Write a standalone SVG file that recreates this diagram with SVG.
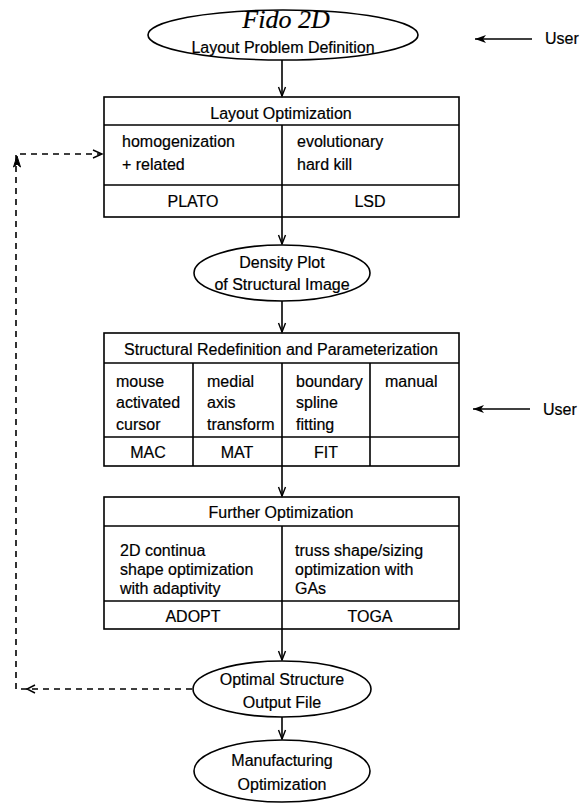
<svg xmlns="http://www.w3.org/2000/svg" width="587" height="803" viewBox="0 0 587 803">
<style>
.s{fill:none;stroke:#000;stroke-width:1.6}
.ln{stroke:#000;stroke-width:1.6;fill:none}
.e{fill:#fff;stroke:#000;stroke-width:1.6}
text{font-family:"Liberation Sans",Arial,sans-serif;font-size:16px;fill:#000;stroke:#000;stroke-width:0.2}
.c{text-anchor:middle}
.fido{font-family:"Liberation Serif","Times New Roman",serif;font-style:italic;font-size:26px}
.d{fill:none;stroke:#000;stroke-width:1.6;stroke-dasharray:6 5}
.ah{fill:none;stroke:#000;stroke-width:1.4}
</style>
<defs>
<marker id="a" viewBox="-10 -5 12 10" refX="0" refY="0" markerWidth="12" markerHeight="10" markerUnits="userSpaceOnUse" orient="auto">
<path d="M-9,-3.5 L0,0 L-9,3.5" fill="none" stroke="#000" stroke-width="1.4"/>
</marker>
<marker id="u" viewBox="-12 -5 13 10" refX="0" refY="0" markerWidth="13" markerHeight="10" markerUnits="userSpaceOnUse" orient="auto">
<path d="M0,0 L-11,-4 L-8,0 L-11,4 Z" fill="#000"/>
</marker>
</defs>

<g id="connectors">
<line class="ln" x1="282" y1="60" x2="282" y2="96" marker-end="url(#a)"/>
<line class="ln" x1="282" y1="217" x2="282" y2="244" marker-end="url(#a)"/>
<line class="ln" x1="282" y1="301" x2="282" y2="332" marker-end="url(#a)"/>
<line class="ln" x1="282" y1="466" x2="282" y2="496" marker-end="url(#a)"/>
<line class="ln" x1="282" y1="629" x2="282" y2="660" marker-end="url(#a)"/>
<line class="ln" x1="282" y1="717" x2="282" y2="739" marker-end="url(#a)"/>
<line class="ln" x1="532" y1="39" x2="475" y2="39" marker-end="url(#u)"/>
<line class="ln" x1="530" y1="409" x2="473" y2="409" marker-end="url(#u)"/>
<path class="d" d="M192,689 H16 V154 H101"/>
<path class="ah" d="M35,685 L27,689 L35,693"/>
<path d="M17,156 L13.5,167 L17,164 L20.5,167 Z" fill="#000" stroke="#000" stroke-width="1"/>
<path class="ah" d="M93,150 L102,154 L93,158"/>
</g>

<g id="problem-definition">
<ellipse class="e" cx="283" cy="35" rx="135" ry="25"/>
<text class="c fido" x="286" y="28">Fido 2D</text>
<text class="c" x="283" y="53">Layout Problem Definition</text>
</g>

<g id="user-top">
<text x="545" y="44">User</text>
</g>

<g id="layout-optimization">
<rect class="s" x="104" y="97" width="355" height="120"/>
<line class="ln" x1="104" y1="125" x2="459" y2="125"/>
<line class="ln" x1="104" y1="185" x2="459" y2="185"/>
<line class="ln" x1="282" y1="125" x2="282" y2="217"/>
<text class="c" x="281" y="119">Layout Optimization</text>
<text x="122" y="147">homogenization</text>
<text x="122" y="170">+ related</text>
<text x="297" y="147">evolutionary</text>
<text x="297" y="170">hard kill</text>
<text class="c" x="193" y="207">PLATO</text>
<text class="c" x="370" y="207">LSD</text>
</g>

<g id="density-plot">
<ellipse class="e" cx="282" cy="273" rx="88" ry="28"/>
<text class="c" x="282" y="268">Density Plot</text>
<text class="c" x="282" y="290">of Structural Image</text>
</g>

<g id="structural-redefinition">
<rect class="s" x="104" y="333" width="355" height="133"/>
<line class="ln" x1="104" y1="363" x2="459" y2="363"/>
<line class="ln" x1="104" y1="437" x2="459" y2="437"/>
<line class="ln" x1="193" y1="363" x2="193" y2="466"/>
<line class="ln" x1="282" y1="363" x2="282" y2="466"/>
<line class="ln" x1="370" y1="363" x2="370" y2="466"/>
<text class="c" x="281" y="355">Structural Redefinition and Parameterization</text>
<text x="116" y="387">mouse</text>
<text x="116" y="408">activated</text>
<text x="116" y="430">cursor</text>
<text x="207" y="387">medial</text>
<text x="207" y="408">axis</text>
<text x="207" y="430">transform</text>
<text x="296" y="387">boundary</text>
<text x="296" y="408">spline</text>
<text x="296" y="430">fitting</text>
<text x="385" y="387">manual</text>
<text class="c" x="148" y="458">MAC</text>
<text class="c" x="237" y="458">MAT</text>
<text class="c" x="326" y="458">FIT</text>
</g>

<g id="user-mid">
<text x="543" y="415">User</text>
</g>

<g id="further-optimization">
<rect class="s" x="104" y="497" width="355" height="132"/>
<line class="ln" x1="104" y1="526" x2="459" y2="526"/>
<line class="ln" x1="104" y1="601" x2="459" y2="601"/>
<line class="ln" x1="282" y1="526" x2="282" y2="629"/>
<text class="c" x="281" y="518">Further Optimization</text>
<text x="120" y="556">2D continua</text>
<text x="120" y="575">shape optimization</text>
<text x="120" y="594">with adaptivity</text>
<text x="295" y="556">truss shape/sizing</text>
<text x="295" y="575">optimization with</text>
<text x="295" y="594">GAs</text>
<text class="c" x="193" y="622">ADOPT</text>
<text class="c" x="370" y="622">TOGA</text>
</g>

<g id="optimal-structure">
<ellipse class="e" cx="282" cy="689" rx="89" ry="28"/>
<text class="c" x="282" y="685">Optimal Structure</text>
<text class="c" x="282" y="708">Output File</text>
</g>

<g id="manufacturing">
<ellipse class="e" cx="282" cy="771" rx="88" ry="31"/>
<text class="c" x="282" y="766">Manufacturing</text>
<text class="c" x="282" y="790">Optimization</text>
</g>
</svg>
